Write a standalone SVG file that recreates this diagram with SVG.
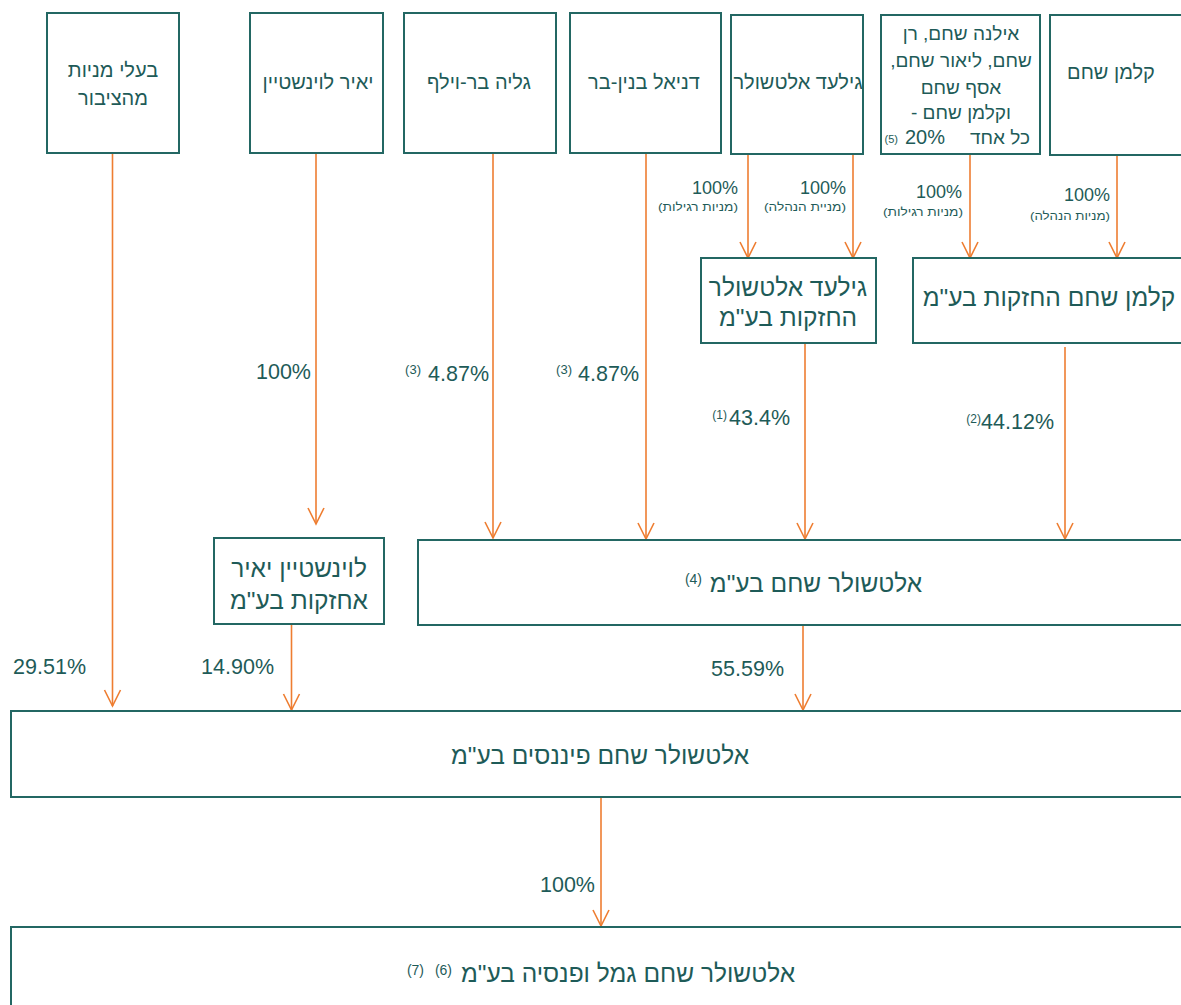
<svg xmlns="http://www.w3.org/2000/svg" width="1181" height="1005" viewBox="0 0 1181 1005">
<style>
.box{fill:#fff;stroke:#236763;stroke-width:2}
.t{font-family:"Liberation Sans","DejaVu Sans",sans-serif;fill:#1e5b58;text-anchor:middle;direction:rtl}
.s18{font-size:20px}
.s19{font-size:19px}
.s21{font-size:24.5px}
.pct{font-family:"Liberation Sans","DejaVu Sans",sans-serif;fill:#1e5b58;font-size:21.5px;text-anchor:end}
.p17{font-size:18px}
.sub{font-family:"Liberation Sans","DejaVu Sans",sans-serif;fill:#1e5b58;font-size:11px;text-anchor:middle;direction:rtl}
.sup{font-family:"Liberation Sans","DejaVu Sans",sans-serif;fill:#1e5b58;font-size:13px;text-anchor:end}
.c{stroke:#ee7d31;stroke-width:1.6;fill:none;marker-end:url(#ah)}
</style>
<defs>
<marker id="ah" viewBox="-1 -1 18 18" refX="16" refY="8" markerWidth="18" markerHeight="18" markerUnits="userSpaceOnUse" orient="auto" overflow="visible">
<path d="M0,0 L16,8 L0,16" fill="none" stroke="#ee7d31" stroke-width="1.6"/>
</marker>
</defs>
<rect width="1181" height="1005" fill="#fff"/>

<g id="connectors">
<line class="c" x1="112.5" y1="153" x2="112.5" y2="706"/>
<line class="c" x1="316" y1="153" x2="316" y2="524"/>
<line class="c" x1="493" y1="149" x2="493" y2="538"/>
<line class="c" x1="646" y1="153" x2="646" y2="539"/>
<line class="c" x1="748" y1="154" x2="748" y2="258"/>
<line class="c" x1="853" y1="154" x2="853" y2="258"/>
<line class="c" x1="970" y1="154" x2="970" y2="258"/>
<line class="c" x1="1117" y1="155" x2="1117" y2="258"/>
<line class="c" x1="805" y1="343" x2="805" y2="539"/>
<line class="c" x1="1065" y1="347" x2="1065" y2="539"/>
<line class="c" x1="291.5" y1="624" x2="291.5" y2="710"/>
<line class="c" x1="803" y1="625" x2="803" y2="710"/>
<line class="c" x1="601" y1="797" x2="601" y2="926"/>
</g>

<g id="lbl-top">
<text class="pct p17" x="738" y="194">100%</text>
<text class="sub" x="698" y="211" textLength="80" lengthAdjust="spacingAndGlyphs">(מניות רגילות)</text>
<text class="pct p17" x="846" y="194">100%</text>
<text class="sub" x="805" y="211" textLength="82" lengthAdjust="spacingAndGlyphs">(מניית הנהלה)</text>
<text class="pct p17" x="962" y="198">100%</text>
<text class="sub" x="923" y="216" textLength="80" lengthAdjust="spacingAndGlyphs">(מניות רגילות)</text>
<text class="pct p17" x="1110" y="201">100%</text>
<text class="sub" x="1070" y="220" textLength="80" lengthAdjust="spacingAndGlyphs">(מניות הנהלה)</text>
</g>

<g id="lbl-mid">
<text class="pct" x="311" y="379">100%</text>
<text class="pct" x="489" y="381">4.87%</text>
<text class="sup" x="421" y="374">(3)</text>
<text class="pct" x="639" y="381">4.87%</text>
<text class="sup" x="572" y="374">(3)</text>
<text class="pct" x="790" y="425">43.4%</text>
<text class="sup" x="727" y="419" style="font-size:12px">(1)</text>
<text class="pct" x="1054" y="429">44.12%</text>
<text class="sup" x="981" y="423" style="font-size:12px">(2)</text>
<text class="pct" x="86" y="674">29.51%</text>
<text class="pct" x="274" y="674">14.90%</text>
<text class="pct" x="784" y="676">55.59%</text>
<text class="pct" x="595" y="892">100%</text>
</g>

<g id="n-public">
<rect class="box" x="47" y="13" width="132" height="140"/>
<text class="t s18" x="113" y="77">בעלי מניות</text>
<text class="t s18" x="113" y="105">מהציבור</text>
</g>
<g id="n-yair">
<rect class="box" x="250" y="13" width="133" height="140"/>
<text class="t s18" x="318" y="89">יאיר לוינשטיין</text>
</g>
<g id="n-galia">
<rect class="box" x="404" y="13" width="152" height="140"/>
<text class="t s18" x="479" y="89">גליה בר-וילף</text>
</g>
<g id="n-daniel">
<rect class="box" x="570" y="13" width="151" height="140"/>
<text class="t s18" x="644" y="89">דניאל בנין-בר</text>
</g>
<g id="n-gilad">
<rect class="box" x="731" y="15" width="132" height="139"/>
<text class="t s18" x="798" y="89">גילעד אלטשולר</text>
</g>
<g id="n-shaham-family">
<rect class="box" x="881" y="15" width="159" height="139"/>
<text class="t s19" x="961" y="40">אילנה שחם, רן</text>
<text class="t s19" x="961" y="67">שחם, ליאור שחם,</text>
<text class="t s19" x="961" y="94">אסף שחם</text>
<text class="t s19" x="961" y="119">וקלמן שחם -</text>
<text class="t s19" x="1000" y="144">כל אחד</text>
<text class="pct" x="945" y="144" style="font-size:20px">20%</text>
<text class="sup" x="898" y="143" style="font-size:11px">(5)</text>
</g>
<g id="n-kalman">
<rect class="box" x="1050" y="15" width="140" height="140"/>
<text class="t s18" x="1111" y="79">קלמן שחם</text>
</g>

<g id="n-gilad-holdings">
<rect class="box" x="701" y="258" width="175" height="85"/>
<text class="t s21" x="788" y="296">גילעד אלטשולר</text>
<text class="t s21" x="788" y="326">החזקות בע"מ</text>
</g>
<g id="n-kalman-holdings">
<rect class="box" x="913" y="258" width="280" height="85"/>
<text class="t s21" x="1049" y="306">קלמן שחם החזקות בע"מ</text>
</g>

<g id="n-levinstein-holdings">
<rect class="box" x="214" y="538" width="170" height="86"/>
<text class="t s21" x="299" y="577">לוינשטיין יאיר</text>
<text class="t s21" x="299" y="609">אחזקות בע"מ</text>
</g>
<g id="n-altshuler-shaham">
<rect class="box" x="418" y="540" width="775" height="85"/>
<text class="t s21" x="816" y="592">אלטשולר שחם בע"מ</text>
<text class="sup" x="702" y="584" style="font-size:14px">(4)</text>
</g>
<g id="n-financim">
<rect class="box" x="11" y="711" width="1182" height="86"/>
<text class="t s21" x="600" y="764">אלטשולר שחם פיננסים בע"מ</text>
</g>
<g id="n-gemel">
<rect class="box" x="11" y="927" width="1182" height="90"/>
<text class="t s21" x="628" y="982">אלטשולר שחם גמל ופנסיה בע"מ</text>
<text class="sup" x="452" y="975" style="font-size:14px">(6)</text>
<text class="sup" x="424" y="975" style="font-size:14px">(7)</text>
</g>
</svg>
